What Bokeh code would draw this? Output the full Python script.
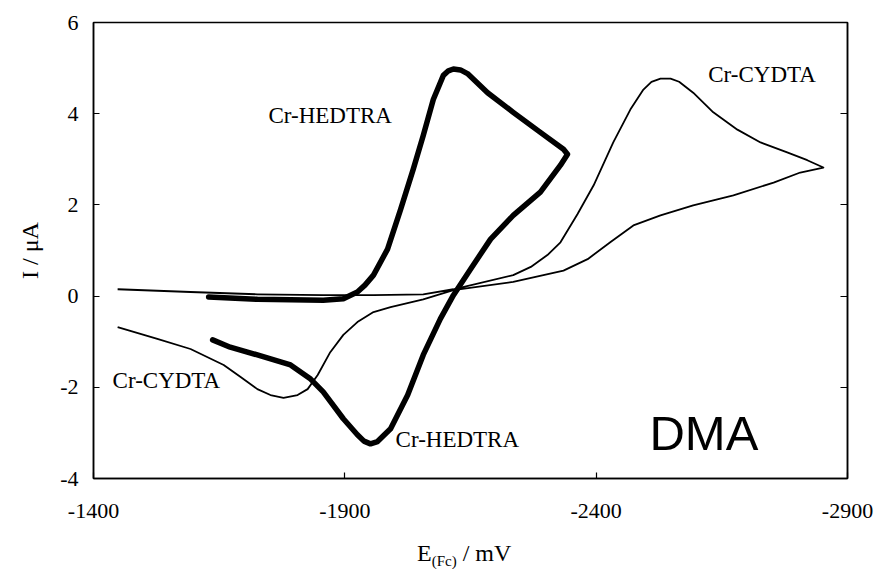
from bokeh.plotting import figure
from bokeh.models import Range1d, FixedTicker, LinearAxis, Label, Div
from bokeh.layouts import column
from bokeh.embed import file_html
from bokeh.resources import INLINE

# Cr-HEDTRA cyclic voltammogram (forward then reverse scan)
hedtra_E = [-1629, -1726, -1857, -1897, -1925, -1940, -1957, -1985, -2011, -2036, -2056,
            -2076, -2096, -2106, -2116, -2130, -2144, -2184, -2235, -2289, -2335, -2343,
            -2329, -2289, -2235, -2190, -2150, -2116, -2090, -2056, -2025, -1991,
            -1965, -1951, -1938, -1925, -1897, -1857, -1832, -1792, -1726, -1672, -1637]
hedtra_I = [-0.02, -0.07, -0.09, -0.06, 0.09, 0.24, 0.46, 1.03, 1.90, 2.78, 3.52,
            4.31, 4.84, 4.94, 4.98, 4.96, 4.88, 4.46, 4.03, 3.59, 3.22, 3.11,
            2.87, 2.28, 1.77, 1.25, 0.59, 0.02, -0.50, -1.29, -2.17, -2.91,
            -3.19, -3.24, -3.18, -3.04, -2.69, -2.10, -1.82, -1.51, -1.29, -1.12, -0.96]

# Cr-CYDTA cyclic voltammogram (forward then reverse scan)
cydta_E = [-1448, -1593, -1726, -1857, -1957, -2056, -2116, -2235, -2270, -2303, -2329,
           -2363, -2395, -2434, -2468, -2494, -2510, -2528, -2548, -2565, -2593, -2633,
           -2681, -2727, -2780, -2820, -2852,
           -2806, -2753, -2673, -2593, -2528, -2474, -2428, -2383, -2335, -2235,
           -2116, -2056, -1991, -1957, -1925, -1897, -1871, -1846, -1826, -1806,
           -1778, -1752, -1726, -1692, -1659, -1593, -1527, -1448]
cydta_I = [0.15, 0.09, 0.04, 0.02, 0.02, 0.04, 0.15, 0.46, 0.64, 0.90, 1.18,
           1.80, 2.43, 3.37, 4.09, 4.53, 4.70, 4.77, 4.77, 4.70, 4.46, 4.03,
           3.65, 3.37, 3.15, 2.98, 2.82,
           2.71, 2.49, 2.21, 1.99, 1.77, 1.55, 1.18, 0.81, 0.56, 0.31,
           0.13, -0.07, -0.24, -0.35, -0.57, -0.85, -1.23, -1.73, -2.04, -2.17,
           -2.23, -2.17, -2.04, -1.77, -1.51, -1.16, -0.94, -0.68]

x_ticks = [-1400, -1900, -2400, -2900]
y_ticks = [-4, -2, 0, 2, 4, 6]

SERIF = "Liberation Serif"

p = figure(width=879, height=535, output_backend="svg", toolbar_location=None,
           x_range=Range1d(-1400, -2900), y_range=Range1d(-4, 6),
           min_border_left=93, min_border_right=32, min_border_top=22,
           min_border_bottom=57, margin=(0, 0, 0, 0))
p.grid.visible = False
p.outline_line_color = "black"
p.outline_line_width = 1.5
p.background_fill_color = "white"
p.border_fill_color = "white"

for ax in (p.xaxis[0], p.yaxis[0]):
    ax.major_tick_in = 6
    ax.major_tick_out = 0
    ax.minor_tick_line_color = None
    ax.axis_line_color = "black"
    ax.axis_line_width = 1.5
    ax.major_tick_line_width = 1.2
    ax.major_label_text_font = SERIF
    ax.major_label_text_font_size = "22px"
    ax.major_label_text_color = "black"

p.xaxis[0].ticker = FixedTicker(ticks=x_ticks)
p.yaxis[0].ticker = FixedTicker(ticks=y_ticks)
p.xaxis[0].major_label_overrides = {t: str(t) for t in x_ticks}
p.yaxis[0].major_label_overrides = {t: str(t) for t in y_ticks}
p.xaxis[0].major_label_standoff = 25
p.yaxis[0].major_label_standoff = 15

p.yaxis[0].axis_label = "I / μA"
p.yaxis[0].axis_label_text_font = SERIF
p.yaxis[0].axis_label_text_font_style = "normal"
p.yaxis[0].axis_label_text_font_size = "24px"
p.yaxis[0].axis_label_text_color = "black"
p.yaxis[0].axis_label_standoff = 14

# right axis with inward ticks only
r_ax = LinearAxis(ticker=FixedTicker(ticks=y_ticks), major_tick_in=7, major_tick_out=0,
                  minor_tick_line_color=None, major_label_text_alpha=0,
                  major_label_text_font_size="1px", axis_line_width=1.5,
                  major_tick_line_width=1.2)
p.add_layout(r_ax, "right")

p.line(cydta_E, cydta_I, line_color="black", line_width=1.8, line_join="round")
p.line(hedtra_E, hedtra_I, line_color="black", line_width=5.5, line_join="round",
       line_cap="round")

def lab(x, y, t, size="23px", font=SERIF):
    p.add_layout(Label(x=x, y=y, text=t, text_font=font, text_font_size=size,
                       text_color="black", text_align="left",
                       text_baseline="alphabetic"))

lab(-1748, 3.96, "Cr-HEDTRA")
lab(-2623, 4.86, "Cr-CYDTA")
lab(-1438, -1.85, "Cr-CYDTA")
lab(-2001, -3.14, "Cr-HEDTRA")
lab(-2506, -3.01, "DMA", size="49px", font="Liberation Sans")

# x-axis title with subscript
xtitle = Div(
    text=('<div style="padding-left:417px;padding-top:5px;line-height:26px;'
          'font-family:\'Liberation Serif\';font-size:24px;color:black;white-space:nowrap;">'
          'E<sub style="font-size:15px;vertical-align:-5px;line-height:0;">(Fc)</sub> / mV</div>'),
    width=879, height=34, margin=(0, 0, 0, 0))

layout = column(p, xtitle, spacing=0, margin=(0, 0, 0, 0))
open("out.html", "w").write(file_html(layout, INLINE))
